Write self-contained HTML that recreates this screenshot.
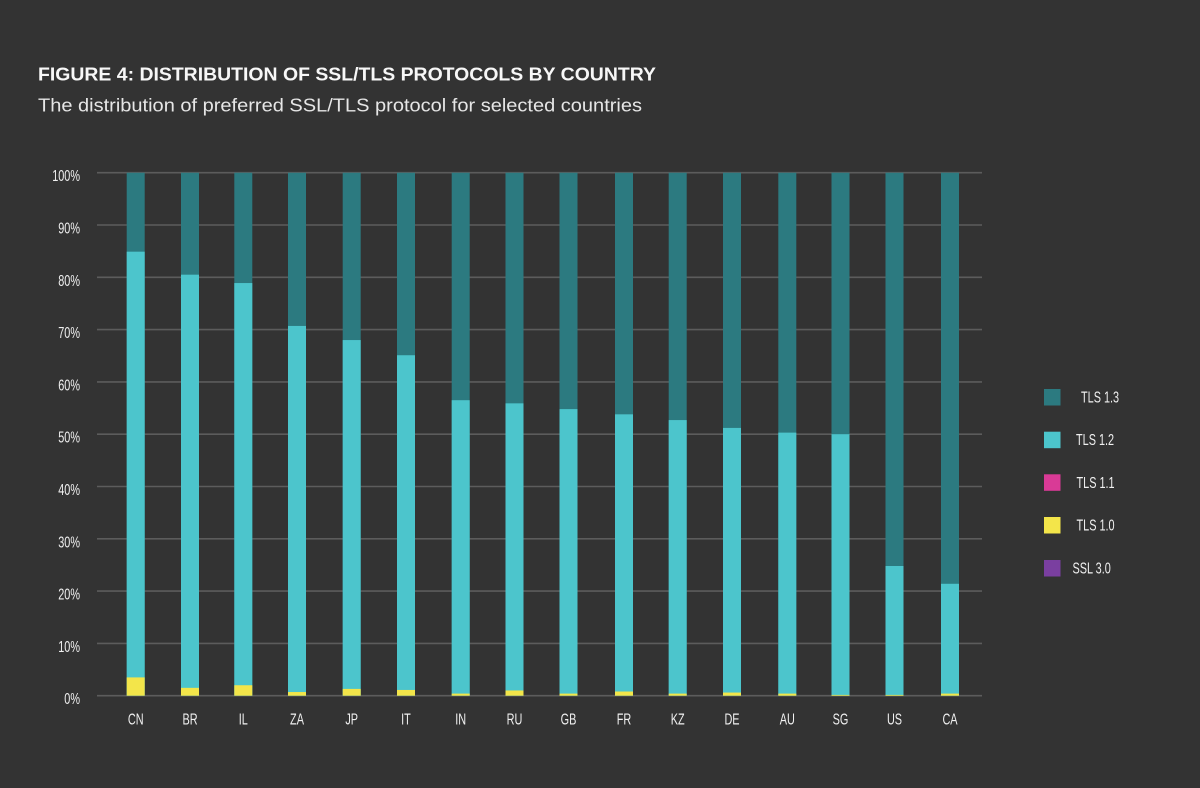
<!DOCTYPE html>
<html>
<head>
<meta charset="utf-8">
<style>
  html, body { margin:0; padding:0; background:#333333; }
  body { width:1200px; height:788px; overflow:hidden; }
  svg { display:block; }
  .t { font-family:"Liberation Sans", sans-serif; }
</style>
</head>
<body>
<svg width="1200" height="788" viewBox="0 0 1200 788" xmlns="http://www.w3.org/2000/svg">
  <rect x="0" y="0" width="1200" height="788" fill="#333333"/>

  <!-- Title -->
  <text class="t" x="38" y="80.7" font-size="18.6" font-weight="bold" fill="#f7f7f7" textLength="618" lengthAdjust="spacingAndGlyphs">FIGURE 4: DISTRIBUTION OF SSL/TLS PROTOCOLS BY COUNTRY</text>
  <text class="t" x="38" y="111.7" font-size="18.5" fill="#e6e6e6" textLength="604" lengthAdjust="spacingAndGlyphs">The distribution of preferred SSL/TLS protocol for selected countries</text>

  <!-- Gridlines -->
  <g stroke="#5c5c5c" stroke-width="1.6">
    <line x1="97" y1="172.7" x2="982" y2="172.7"/>
    <line x1="97" y1="225.0" x2="982" y2="225.0"/>
    <line x1="97" y1="277.3" x2="982" y2="277.3"/>
    <line x1="97" y1="329.6" x2="982" y2="329.6"/>
    <line x1="97" y1="381.9" x2="982" y2="381.9"/>
    <line x1="97" y1="434.2" x2="982" y2="434.2"/>
    <line x1="97" y1="486.5" x2="982" y2="486.5"/>
    <line x1="97" y1="538.8" x2="982" y2="538.8"/>
    <line x1="97" y1="591.1" x2="982" y2="591.1"/>
    <line x1="97" y1="643.4" x2="982" y2="643.4"/>
    <line x1="97" y1="695.7" x2="982" y2="695.7"/>
  </g>

  <!-- Y labels -->
  <g class="t" font-size="16" fill="#f0f0f0" text-anchor="end">
    <text transform="translate(80,181.2) scale(0.68,1)">100%</text>
    <text transform="translate(80,233.5) scale(0.68,1)">90%</text>
    <text transform="translate(80,285.8) scale(0.68,1)">80%</text>
    <text transform="translate(80,338.1) scale(0.68,1)">70%</text>
    <text transform="translate(80,390.4) scale(0.68,1)">60%</text>
    <text transform="translate(80,442.7) scale(0.68,1)">50%</text>
    <text transform="translate(80,495.0) scale(0.68,1)">40%</text>
    <text transform="translate(80,547.3) scale(0.68,1)">30%</text>
    <text transform="translate(80,599.6) scale(0.68,1)">20%</text>
    <text transform="translate(80,651.9) scale(0.68,1)">10%</text>
    <text transform="translate(80,704.2) scale(0.68,1)">0%</text>
  </g>

  <!-- Bars: TLS 1.3 background (full) -->
  <g fill="#2c7a80">
    <rect x="126.7" y="172.7" width="18" height="523"/>
    <rect x="181.0" y="172.7" width="18" height="523"/>
    <rect x="234.3" y="172.7" width="18" height="523"/>
    <rect x="288.0" y="172.7" width="18" height="523"/>
    <rect x="342.7" y="172.7" width="18" height="523"/>
    <rect x="397.0" y="172.7" width="18" height="523"/>
    <rect x="451.7" y="172.7" width="18" height="523"/>
    <rect x="505.5" y="172.7" width="18" height="523"/>
    <rect x="559.5" y="172.7" width="18" height="523"/>
    <rect x="615.0" y="172.7" width="18" height="523"/>
    <rect x="668.7" y="172.7" width="18" height="523"/>
    <rect x="723.0" y="172.7" width="18" height="523"/>
    <rect x="778.3" y="172.7" width="18" height="523"/>
    <rect x="831.5" y="172.7" width="18" height="523"/>
    <rect x="885.5" y="172.7" width="18" height="523"/>
    <rect x="941.0" y="172.7" width="18" height="523"/>
  </g>
  <!-- TLS 1.2 -->
  <g fill="#4cc5cc">
    <rect x="126.7" y="251.67" width="18" height="444.03"/>
    <rect x="181.0" y="274.68" width="18" height="421.02"/>
    <rect x="234.3" y="283.05" width="18" height="412.65"/>
    <rect x="288.0" y="325.94" width="18" height="369.76"/>
    <rect x="342.7" y="340.06" width="18" height="355.64"/>
    <rect x="397.0" y="355.23" width="18" height="340.47"/>
    <rect x="451.7" y="400.20" width="18" height="295.50"/>
    <rect x="505.5" y="403.34" width="18" height="292.36"/>
    <rect x="559.5" y="409.10" width="18" height="286.60"/>
    <rect x="615.0" y="414.33" width="18" height="281.37"/>
    <rect x="668.7" y="420.08" width="18" height="275.62"/>
    <rect x="723.0" y="427.92" width="18" height="267.78"/>
    <rect x="778.3" y="432.63" width="18" height="263.07"/>
    <rect x="831.5" y="434.20" width="18" height="261.50"/>
    <rect x="885.5" y="566.00" width="18" height="129.70"/>
    <rect x="941.0" y="583.78" width="18" height="111.92"/>
  </g>
  <!-- TLS 1.0 -->
  <g fill="#f3e54a">
    <rect x="126.7" y="677.4" width="18" height="18.3"/>
    <rect x="181.0" y="687.85" width="18" height="7.85"/>
    <rect x="234.3" y="685.24" width="18" height="10.46"/>
    <rect x="288.0" y="692.04" width="18" height="3.66"/>
    <rect x="342.7" y="688.9" width="18" height="6.8"/>
    <rect x="397.0" y="689.95" width="18" height="5.75"/>
    <rect x="451.7" y="693.61" width="18" height="2.09"/>
    <rect x="505.5" y="690.47" width="18" height="5.23"/>
    <rect x="559.5" y="693.61" width="18" height="2.09"/>
    <rect x="615.0" y="691.52" width="18" height="4.18"/>
    <rect x="668.7" y="693.61" width="18" height="2.09"/>
    <rect x="723.0" y="692.56" width="18" height="3.14"/>
    <rect x="778.3" y="693.61" width="18" height="2.09"/>
    <rect x="831.5" y="694.9" width="18" height="0.8"/>
    <rect x="885.5" y="694.9" width="18" height="0.8"/>
    <rect x="941.0" y="693.61" width="18" height="2.09"/>
  </g>

  <!-- X labels -->
  <g class="t" font-size="16" fill="#f0f0f0" text-anchor="middle">
    <text transform="translate(135.7,724.5) scale(0.68,1)">CN</text>
    <text transform="translate(190.0,724.5) scale(0.68,1)">BR</text>
    <text transform="translate(243.3,724.5) scale(0.68,1)">IL</text>
    <text transform="translate(297.0,724.5) scale(0.68,1)">ZA</text>
    <text transform="translate(351.7,724.5) scale(0.68,1)">JP</text>
    <text transform="translate(406.0,724.5) scale(0.68,1)">IT</text>
    <text transform="translate(460.7,724.5) scale(0.68,1)">IN</text>
    <text transform="translate(514.5,724.5) scale(0.68,1)">RU</text>
    <text transform="translate(568.5,724.5) scale(0.68,1)">GB</text>
    <text transform="translate(624.0,724.5) scale(0.68,1)">FR</text>
    <text transform="translate(677.7,724.5) scale(0.68,1)">KZ</text>
    <text transform="translate(732.0,724.5) scale(0.68,1)">DE</text>
    <text transform="translate(787.3,724.5) scale(0.68,1)">AU</text>
    <text transform="translate(840.5,724.5) scale(0.68,1)">SG</text>
    <text transform="translate(894.5,724.5) scale(0.68,1)">US</text>
    <text transform="translate(950.0,724.5) scale(0.68,1)">CA</text>
  </g>

  <!-- Legend -->
  <rect x="1044" y="389" width="16.5" height="16.5" fill="#2c7a80"/>
  <rect x="1044" y="431.7" width="16.5" height="16.5" fill="#4cc5cc"/>
  <rect x="1044" y="474.3" width="16.5" height="16.5" fill="#d93a96"/>
  <rect x="1044" y="517" width="16.5" height="16.5" fill="#f3e54a"/>
  <rect x="1044" y="560" width="16.5" height="16.5" fill="#7a3fa0"/>
  <g class="t" font-size="16" fill="#f0f0f0">
    <text transform="translate(1081,402.5) scale(0.68,1)">TLS 1.3</text>
    <text transform="translate(1076,445.2) scale(0.68,1)">TLS 1.2</text>
    <text transform="translate(1076.5,487.8) scale(0.68,1)">TLS 1.1</text>
    <text transform="translate(1076.5,530.5) scale(0.68,1)">TLS 1.0</text>
    <text transform="translate(1072.5,573.5) scale(0.68,1)">SSL 3.0</text>
  </g>
</svg>
</body>
</html>
